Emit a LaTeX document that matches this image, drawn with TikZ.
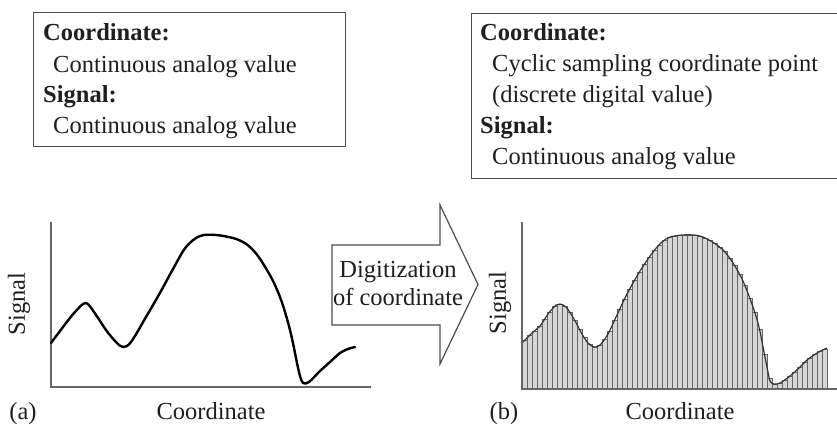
\documentclass[tikz,border=0pt]{standalone}
\usepackage{fontspec}
\setmainfont{Liberation Serif}
\begin{document}
\begin{tikzpicture}[x=1pt,y=-1pt,
  lbl/.style={font=\fontsize{24.5}{29}\selectfont, text=black!88, inner sep=0pt},
  boldlbl/.style={lbl, font=\fontsize{24.5}{29}\selectfont\bfseries},
  boxframe/.style={draw=black!70, line width=1.4pt, inner sep=0pt},
  axisline/.style={draw=black!60, line width=1.2pt},
  curveline/.style={draw=black, line width=2.4pt, line join=round, line cap=round},
  sample/.style={fill=black!16, draw=black!60, line width=0.6pt},
  trace/.style={draw=black!80, line width=1.2pt, line join=round},
  arrowshape/.style={draw=black!70, line width=1.2pt, fill=white, line join=miter}]
\useasboundingbox (0,0) rectangle (837,426);
\clip (0,0) rectangle (837,426);
\fill[white] (0,0) rectangle (837,426);

% ---------- text boxes ----------
\node[boxframe, anchor=north west, minimum width=312pt, minimum height=134pt] (boxA) at (33,12) {};
\node[boldlbl, anchor=base west] (boxAc) at (43,40) {Coordinate:};
\node[lbl, anchor=base west] (boxAcv) at (53,72) {Continuous analog value};
\node[boldlbl, anchor=base west] (boxAs) at (43,102) {Signal:};
\node[lbl, anchor=base west] (boxAsv) at (53,133) {Continuous analog value};

\node[boxframe, anchor=north west, minimum width=380pt, minimum height=165pt] (boxB) at (471,13) {};
\node[boldlbl, anchor=base west] (boxBc) at (480,40) {Coordinate:};
\node[lbl, anchor=base west] (boxBcv) at (492,71) {Cyclic sampling coordinate point};
\node[lbl, anchor=base west] (boxBcd) at (492,102) {(discrete digital value)};
\node[boldlbl, anchor=base west] (boxBs) at (480,133) {Signal:};
\node[lbl, anchor=base west] (boxBsv) at (492,164) {Continuous analog value};

% ---------- block arrow ----------
\draw[arrowshape] (332,245) -- (440,245) -- (440,205) -- (478,284.5)
  -- (440,364) -- (440,325) -- (332,325) -- cycle;
\node[lbl, anchor=base] (dig1) at (398,277) {Digitization};
\node[lbl, anchor=base] (dig2) at (398,305) {of coordinate};

% ---------- (a) continuous signal ----------
\draw[axisline] (51,222) -- (51,387) -- (371,387);
\draw[curveline] plot[smooth, tension=0.55] coordinates {
  (51,343) (63,327) (75,312) (86,303) (96,315) (106,330) (116,342) (123,347)
  (131,342) (146,317) (161,291) (173,269) (186,247) (200,236) (216,235)
  (233,238) (243,242) (250,247) (258,256) (267,270) (274,283) (280,297)
  (285,312) (290,330) (294,348) (297,363) (300,376) (303,383) (309,382)
  (320,371) (330,362) (340,353) (348,349) (355,347)};
\node[lbl, rotate=90] (sigA) at (19,304) {Signal};
\node[lbl, anchor=base] (labA) at (23,419) {(a)};
\node[lbl, anchor=base] (coordA) at (211,419) {Coordinate};

% ---------- (b) sampled signal ----------
\foreach \h [count=\i from 0] in {
  48.5,53.5,58.2,62.6,69.8,76.7,82.3,84.9,82.8,76.8,
  69.1,59.7,51.3,45.0,42.2,43.8,50.2,58.2,68.7,79.3,
  89.8,99.4,108.3,117.1,124.6,131.9,138.7,144.2,148.6,151.7,
  152.8,153.6,154.0,154.0,153.9,152.8,151.2,148.5,145.6,141.6,
  137.3,130.7,123.3,114.3,104.1,91.1,77.0,59.5,34.5,10.3,
  5.1,5.9,9.2,12.7,17.0,21.5,26.5,30.8,34.3,37.3,39.8}
  \draw[sample] (522+5*\i,389) rectangle ++(5,-\h);
\draw[trace] plot[smooth, tension=0.5] coordinates {
  (522,343) (532,333) (540,326) (548,314) (556,305) (560,304) (566,307)
  (574,319) (582,334) (588,343) (594,347) (600,345) (608,334) (617,315)
  (627,294) (640,271) (653,252) (662,242) (670,237) (682,235) (694,235)
  (703,237) (714,243) (724,251) (733,263) (743,281) (753,307) (759,327)
  (763,347) (767,367) (770,381) (774,384) (780,383) (790,376) (800,367)
  (807,360) (817,353) (827,348)};
\draw[axisline] (522,222) -- (522,389) -- (837,389);
\node[lbl, rotate=90] (sigB) at (500,303) {Signal};
\node[lbl, anchor=base] (labB) at (504,419) {(b)};
\node[lbl, anchor=base] (coordB) at (680,419) {Coordinate};
\end{tikzpicture}
\end{document}
